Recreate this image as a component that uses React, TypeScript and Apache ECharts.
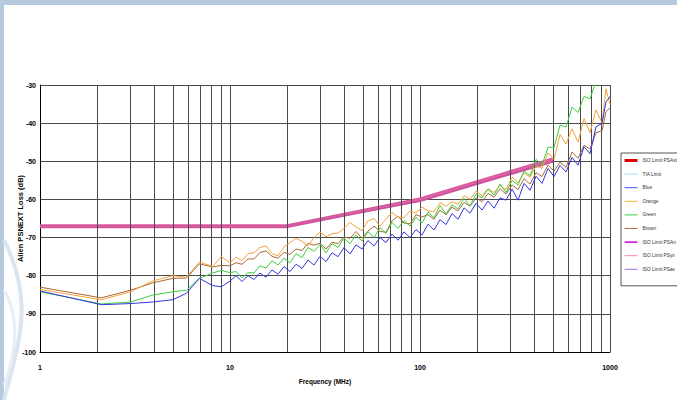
import React, { useEffect, useRef } from "react";
import * as echarts from "echarts";

// Frequencies (MHz) shared by the four measured pairs
const freqs = [
  1, 2.1, 3, 3.9, 5, 5.9, 6.9, 8.1, 9, 10,
  10.75, 11.57, 12.44, 13.38, 14.38, 15.47, 16.64, 17.89, 19.24, 20.69,
  22.26, 23.93, 25.73, 27.68, 29.77, 32.01, 34.42, 37.02, 39.81, 42.81,
  46.04, 49.52, 53.25, 57.27, 61.58, 66.23, 71.23, 76.6, 82.38, 88.59,
  95.27, 102.5, 110.2, 118.5, 127.4, 137.1, 147.4, 158.5, 170.5, 183.3,
  197.2, 212.1, 228.1, 245.3, 263.8, 283.7, 305.1, 328.1, 352.8, 379.4,
  408.1, 438.8, 471.9, 507.5, 545.8, 587, 631, 679, 730, 785,
  844, 908, 952, 1000,
];

const blue = [
  -84.0, -87.6, -87.3, -86.9, -86.3, -84.6, -80.7, -82.6, -82.9, -81.4,
  -80.0, -81.5, -80.0, -81.0, -79.3, -80.4, -78.5, -79.6, -77.6, -78.9,
  -77.0, -78.1, -75.9, -77.2, -74.9, -76.3, -74.0, -75.0, -72.6, -74.3,
  -71.9, -73.0, -70.8, -72.2, -70.0, -71.3, -69.1, -70.7, -68.5, -70.0,
  -67.9, -69.3, -66.5, -68.0, -65.3, -66.6, -63.7, -65.2, -62.2, -63.6,
  -61.0, -62.8, -60.4, -62.3, -59.6, -60.2, -57.3, -60.2, -55.8, -57.6,
  -53.9, -55.8, -51.9, -54.0, -51.1, -52.8, -49.0, -51.0, -46.2, -48.0,
  -41.0, -40.0, -34.5, -33.0,
];

const orange = [
  -83.6, -86.3, -84.2, -81.4, -80.0, -80.4, -76.4, -77.6, -75.0, -76.6,
  -75.2, -76.0, -74.2, -74.0, -72.6, -72.2, -74.2, -74.8, -72.4, -71.3,
  -70.2, -71.0, -72.2, -70.0, -68.6, -69.8, -69.0, -68.8, -67.6, -66.0,
  -67.2, -68.2, -65.6, -65.0, -67.0, -65.2, -63.4, -64.6, -64.8, -63.0,
  -63.6, -62.0, -63.0, -63.2, -60.8, -61.8, -60.6, -61.2, -59.0, -60.0,
  -57.8, -59.0, -57.2, -58.2, -56.4, -57.4, -54.2, -55.6, -53.0, -54.2,
  -51.2, -51.8, -47.8, -49.5, -43.0, -45.5, -41.5, -45.0, -38.8, -42.5,
  -36.5, -40.0, -31.0, -35.0,
];

const green = [
  -84.2, -87.4, -86.9, -85.1, -84.2, -83.8, -80.7, -79.3, -78.6, -79.2,
  -78.9, -80.6, -79.2, -79.3, -77.4, -78.0, -76.1, -77.2, -75.4, -76.6,
  -74.2, -75.3, -72.6, -73.6, -71.8, -74.0, -71.6, -72.6, -70.2, -71.6,
  -69.3, -70.9, -68.5, -70.0, -67.4, -68.9, -66.0, -67.6, -65.5, -67.0,
  -64.7, -66.2, -63.3, -64.8, -61.6, -63.8, -61.4, -62.5, -59.7, -61.7,
  -58.5, -59.6, -57.3, -58.8, -56.0, -58.2, -55.0, -56.2, -52.6, -53.8,
  -49.5, -51.0, -46.3, -46.4, -40.5, -41.0, -35.8, -37.2, -33.0, -33.6,
  -29.0, -29.5, -28.0, -28.0,
];

const brown = [
  -83.0, -85.8, -83.8, -81.9, -80.7, -80.6, -76.9, -77.7, -77.3, -77.4,
  -76.6, -77.0, -75.6, -75.6, -73.9, -73.5, -74.9, -75.4, -73.9, -74.4,
  -73.0, -73.4, -71.5, -72.0, -71.5, -73.0, -71.2, -71.6, -69.8, -70.2,
  -68.4, -70.2, -68.3, -67.0, -68.4, -68.6, -65.6, -64.4, -66.2, -66.4,
  -64.0, -64.6, -64.0, -65.2, -62.8, -64.0, -62.0, -63.0, -60.8, -61.8,
  -59.6, -60.6, -58.4, -59.4, -57.2, -58.6, -56.2, -57.4, -54.6, -56.0,
  -53.0, -54.0, -51.0, -52.6, -50.2, -51.6, -47.6, -49.2, -45.8, -46.8,
  -42.5, -42.0, -37.0, -36.0,
];

// Limit lines (corner points)
const limitFreqs = [1, 20, 100, 500];
const isoLimit = [-67, -67, -60, -49.5];
const isoLimitAlt = [-67, -67, -60.4, -50.1];

// Minor vertical grid values of the log axis
const minorGridFreqs = [2, 3, 4, 5, 6, 7, 8, 9, 20, 30, 40, 50, 60, 70, 80, 90, 200, 300, 400, 500, 600, 700, 800, 900];

const legendNames = [
  "ISO Limit PSAxt",
  "TIA Limit",
  "Blue",
  "Orange",
  "Green",
  "Brown",
  "ISO Limit PSAn",
  "ISO Limit PSyx",
  "ISO Limit PSax",
];
const legendColors = ["#e00000", "#9fe0f0", "#5050f0", "#f5b040", "#40d040", "#b07040", "#d000d0", "#ff88aa", "#a070e8"];
const legendWidths = [3, 1, 1, 1, 1, 1, 1.5, 1, 1];

const FONT = "'Liberation Sans', Arial, sans-serif";

function pairs(xs: number[], ys: number[]) {
  return xs.map((x, i) => [x, ys[i]]);
}

export default function App() {
  const ref = useRef<HTMLDivElement>(null);
  useEffect(() => {
    const chart = echarts.init(ref.current!, null, { renderer: "svg" });
    const lineSeries = (name: string, data: number[][], color: string, width: number, z: number) => ({
      name,
      type: "line",
      data,
      symbol: "none",
      showSymbol: false,
      z,
      lineStyle: { color, width },
      itemStyle: { color },
      emphasis: { disabled: true },
    });
    const option: any = {
      animation: false,
      backgroundColor: "#b7c9dd",
      graphic: [
        { type: "rect", z: -100, shape: { x: 4, y: 5, width: 673, height: 395 }, style: { fill: "#ffffff" } },
        {
          type: "bezierCurve",
          z: -90,
          shape: { x1: 4, y1: 240, cpx1: 34, cpy1: 300, cpx2: 20, cpy2: 340, x2: 4, y2: 400 },
          style: { stroke: "#dbe5ef", lineWidth: 4, fill: null },
        },
        {
          type: "bezierCurve",
          z: -90,
          shape: { x1: 4, y1: 290, cpx1: 22, cpy1: 320, cpx2: 14, cpy2: 360, x2: 4, y2: 385 },
          style: { stroke: "#e8eef5", lineWidth: 3, fill: null },
        },
      ],
      grid: { left: 40, right: 67, top: 85, bottom: 48, containLabel: false, outerBoundsMode: "none" },
      legend: {
        orient: "vertical",
        left: 621,
        top: 153,
        padding: [5, 40, 14, 2],
        itemWidth: 13,
        itemHeight: 6,
        itemGap: 8.6,
        borderColor: "#555",
        borderWidth: 1,
        backgroundColor: "#fff",
        selectedMode: false,
        textStyle: { fontSize: 4.8, color: "#333", fontFamily: FONT },
        data: legendNames.map((n, i) => ({
          name: n,
          lineStyle: { color: legendColors[i], width: legendWidths[i] },
          itemStyle: { color: legendColors[i], opacity: 0, borderWidth: 0 },
        })),
      },
      xAxis: {
        type: "log",
        logBase: 10,
        min: 1,
        max: 1000,
        name: "Frequency (MHz)",
        nameLocation: "middle",
        nameGap: 26,
        nameMoveOverlap: false,
        nameTextStyle: { fontSize: 6.5, fontWeight: "bold", color: "#000", fontFamily: FONT },
        axisLine: { show: true, lineStyle: { color: "#000", width: 1 } },
        axisTick: { show: false },
        axisLabel: {
          fontSize: 7,
          fontWeight: "bold",
          color: "#000",
          margin: 12,
          fontFamily: FONT,
          formatter: (v: number) => String(Math.round(v)),
        },
        splitLine: { show: true, lineStyle: { color: "#4a4a4a", width: 1 } },
      },
      yAxis: {
        type: "value",
        min: -100,
        max: -30,
        interval: 10,
        name: "Alien PSNEXT Loss (dB)",
        nameLocation: "middle",
        nameGap: 16,
        nameMoveOverlap: false,
        nameRotate: 90,
        nameTextStyle: { fontSize: 7.5, fontWeight: "bold", color: "#000", fontFamily: FONT },
        axisLine: { show: true, lineStyle: { color: "#000", width: 1 } },
        axisTick: { show: false },
        axisLabel: { fontSize: 7, fontWeight: "bold", color: "#000", margin: 4, fontFamily: FONT },
        splitLine: { show: true, lineStyle: { color: "#4a4a4a", width: 1 } },
      },
      series: [
        {
          name: "minorGrid",
          type: "line",
          data: [],
          z: 1,
          markLine: {
            silent: true,
            symbol: ["none", "none"],
            label: { show: false },
            lineStyle: { color: "#4a4a4a", width: 1, type: "solid" },
            emphasis: { disabled: true },
            data: minorGridFreqs.map((f) => ({ xAxis: f })),
          },
        },
        lineSeries(legendNames[1], pairs(limitFreqs, isoLimit), "#d8589c", 1, 3),
        lineSeries(legendNames[0], pairs(limitFreqs, isoLimit), "#d9589c", 4, 4),
        lineSeries(legendNames[6], pairs(limitFreqs, isoLimitAlt), "#d24c98", 2, 4),
        lineSeries(legendNames[7], pairs(limitFreqs, isoLimit), "#de6aa8", 1, 4),
        lineSeries(legendNames[8], pairs(limitFreqs, isoLimitAlt), "#cc5aa4", 1, 4),
        lineSeries(legendNames[5], pairs(freqs, brown), "#a8683a", 1, 5),
        lineSeries(legendNames[3], pairs(freqs, orange), "#f5a33a", 1, 5),
        lineSeries(legendNames[4], pairs(freqs, green), "#3ccf3c", 1, 5),
        lineSeries(legendNames[2], pairs(freqs, blue), "#3535e0", 1, 5),
      ],
    };
    chart.setOption(option);
    return () => chart.dispose();
  }, []);
  return <div ref={ref} style={{ position: "fixed", left: 0, top: 0, width: 677, height: 400 }} />;
}
